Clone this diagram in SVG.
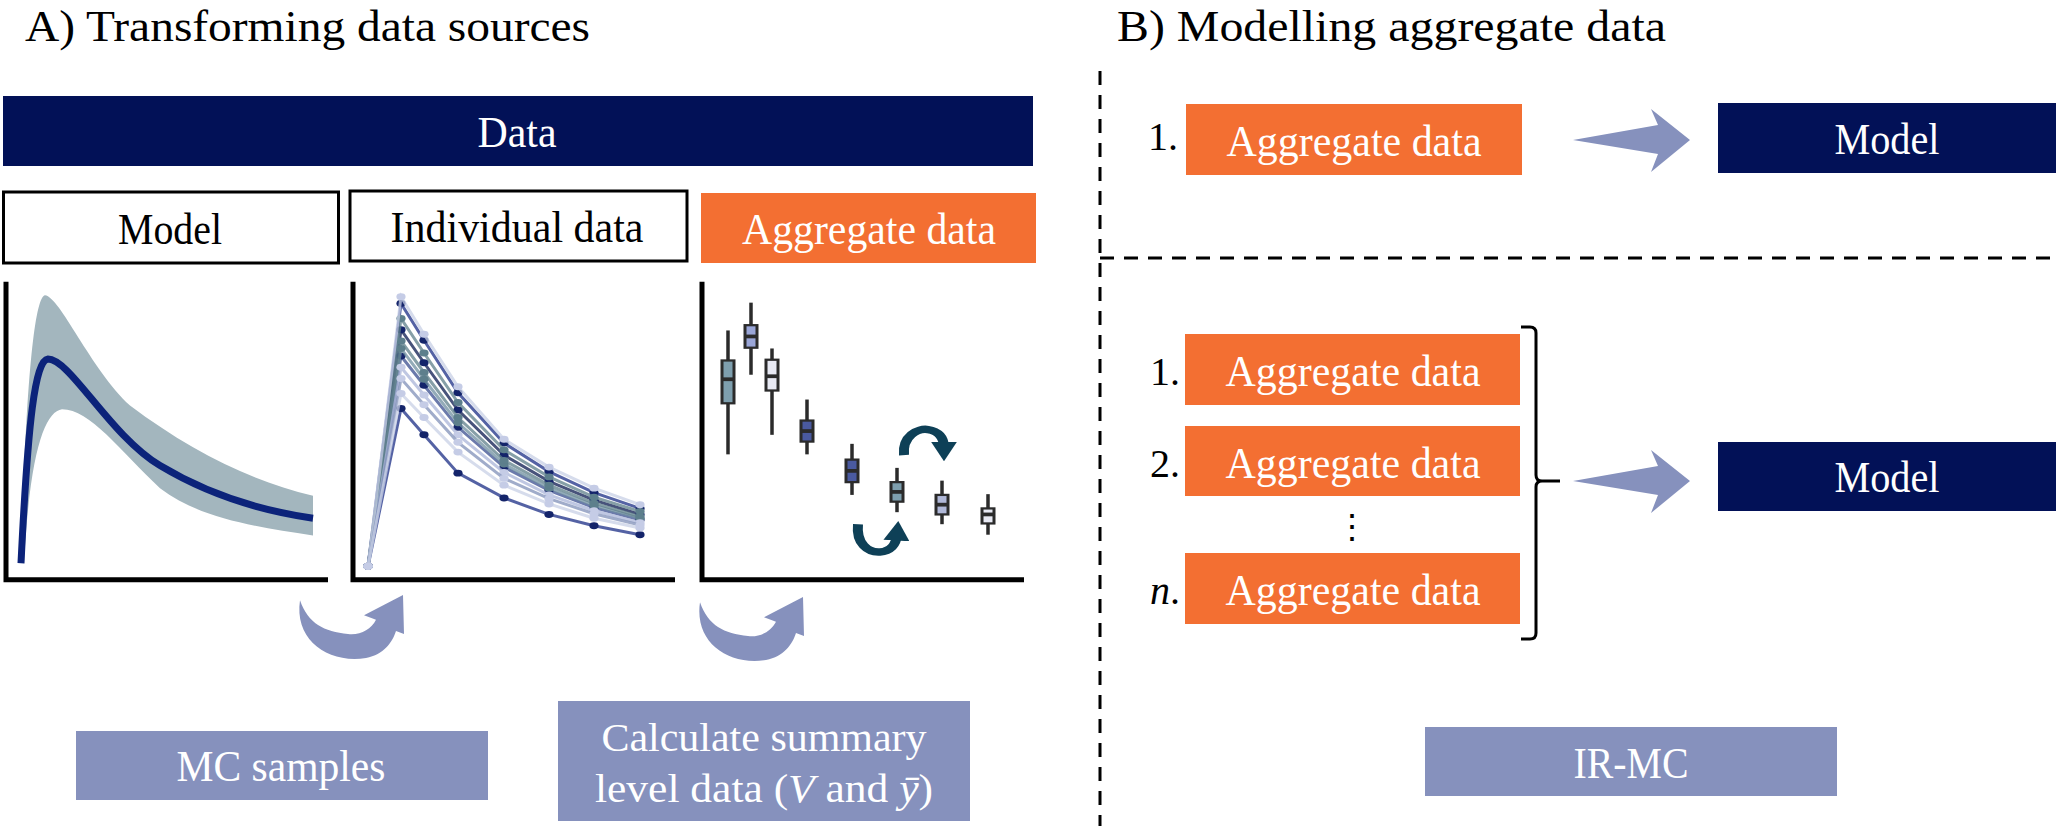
<svg xmlns="http://www.w3.org/2000/svg" width="2056" height="826" viewBox="0 0 2056 826">
<style>
text{font-family:"Liberation Serif","Times New Roman",serif}
.t{font-size:44px;fill:#000}
.w{fill:#fff;font-size:44px;text-anchor:middle}
.w2{fill:#fff;font-size:40px;text-anchor:middle}
.k{fill:#000;font-size:44px;text-anchor:middle}
.lab{font-size:40px;fill:#000;text-anchor:end}
.navy{fill:#021157}
.org{fill:#f36f32}
.lav{fill:#8691bd}
.ax{fill:none;stroke:#000;stroke-width:5;vector-effect:non-scaling-stroke}
.dash{fill:none;stroke:#000;stroke-width:3;stroke-dasharray:14 10}
.bx{stroke:#2b2b2b;stroke-width:3;vector-effect:non-scaling-stroke}
.wh{stroke:#2b2b2b;stroke-width:3.5;vector-effect:non-scaling-stroke}
.il{fill:none;stroke-width:3;stroke-opacity:0.75;vector-effect:non-scaling-stroke}
.sm{fill:none;stroke:#0e4057;stroke-width:10}
</style>
<defs>
<marker id="dn" viewBox="0 0 10 10" refX="5" refY="5" markerWidth="3.4" markerHeight="3.4" orient="0" markerUnits="strokeWidth"><circle cx="5" cy="5" r="4" fill="#14246a"/></marker>
<marker id="dt" viewBox="0 0 10 10" refX="5" refY="5" markerWidth="3.4" markerHeight="3.4" orient="0" markerUnits="strokeWidth"><circle cx="5" cy="5" r="4" fill="#5d7f8c"/></marker>
<marker id="dl" viewBox="0 0 10 10" refX="5" refY="5" markerWidth="3.4" markerHeight="3.4" orient="0" markerUnits="strokeWidth"><circle cx="5" cy="5" r="4" fill="#c5cce6"/></marker>
<marker id="ah" viewBox="0 0 10 10" refX="3" refY="5" markerWidth="2.6" markerHeight="2.6" orient="auto" markerUnits="strokeWidth"><path d="M0,0 L10,5 L0,10 Z" fill="#0e4057"/></marker>
<path id="bigArrow" d="M2,7 C-4,60 30,92 68,84 C86,79 94,64 98,48 L106,52 L105,0 L66,27 L78,33 C73,46 62,54 50,52 C26,49 10,38 2,7 Z"/>
<path id="rArrow" d="M0,31 L85,16 L78,0 L117,31 L78,63 L85,45 Z"/>
</defs>

<g id="titles">
<text class="t" x="25" y="41" textLength="565" lengthAdjust="spacingAndGlyphs">A) Transforming data sources</text>
<text class="t" x="1117" y="41" textLength="549" lengthAdjust="spacingAndGlyphs">B) Modelling aggregate data</text>
</g>

<g id="data-bar">
<rect class="navy" x="3" y="96" width="1030" height="70"/>
<text class="w" x="517" y="147" textLength="79" lengthAdjust="spacingAndGlyphs">Data</text>
</g>
<g id="model-a">
<rect x="3.5" y="192" width="335" height="71" fill="#fff" stroke="#000" stroke-width="3"/>
<text class="k" x="170" y="244" textLength="104" lengthAdjust="spacingAndGlyphs">Model</text>
</g>
<g id="individual-a">
<rect x="350" y="191" width="337" height="70" fill="#fff" stroke="#000" stroke-width="3"/>
<text class="k" x="517" y="242" textLength="253" lengthAdjust="spacingAndGlyphs">Individual data</text>
</g>
<g id="aggregate-a">
<rect class="org" x="701" y="193" width="335" height="70"/>
<text class="w" x="869" y="244" textLength="254" lengthAdjust="spacingAndGlyphs">Aggregate data</text>
</g>

<g id="plot-model" transform="matrix(1,0,0,0.751,0,0)">
<path d="M21,748 C26,500 35,395 45,393 C60,395 90,490 130,540 C190,600 250,640 313,660 L313,713 C250,700 200,690 160,650 C120,600 90,545 62,545 C45,548 30,600 24,750 Z" fill="#a3b6be"/>
<path d="M21,750 C28,560 35,480 48,478 C70,478 110,580 160,620 C210,660 260,680 313,690" fill="none" stroke="#0c237a" stroke-width="7" vector-effect="non-scaling-stroke"/>
<path class="ax" d="M6,375 V772 H328"/>
</g>

<g id="plot-individual" transform="matrix(1,0,0,0.751,0,0)">
<g marker-start="url(#dn)" marker-mid="url(#dn)" marker-end="url(#dn)">
<polyline class="il" stroke="#1b2d86" points="368,754 401,404 424,453 458,523 504,590 549,628 594,656 640,677"/>
<polyline class="il" stroke="#0b1a4f" points="368,754 401,439 424,483 458,546 504,606 549,641 594,666 640,685"/>
<polyline class="il" stroke="#3a4d8f" points="368,754 401,474 424,513 458,569 504,622 549,653 594,676 640,692"/>
<polyline class="il" stroke="#1b2d86" points="368,754 401,544 424,579 458,630 504,663 549,685 594,700 640,712"/>
</g>
<g marker-start="url(#dt)" marker-mid="url(#dt)" marker-end="url(#dt)">
<polyline class="il" stroke="#5e7f8a" points="368,754 401,424 424,470 458,536 504,599 549,635 594,662 640,681"/>
<polyline class="il" stroke="#6f8fa0" points="368,754 401,464 424,505 458,563 504,618 549,650 594,673 640,690"/>
<polyline class="il" stroke="#5e7f8a" points="368,754 401,454 424,496 458,556 504,613 549,646 594,670 640,688"/>
</g>
<g marker-start="url(#dl)" marker-mid="url(#dl)" marker-end="url(#dl)">
<polyline class="il" stroke="#aab4d8" points="368,754 401,489 424,526 458,579 504,629 549,659 594,680 640,696"/>
<polyline class="il" stroke="#c8d0e6" points="368,754 401,395 424,445 458,515 504,585 549,622 594,650 640,672"/>
<polyline class="il" stroke="#8090b8" points="368,754 401,504 424,539 458,589 504,637 549,664 594,684 640,699"/>
<polyline class="il" stroke="#c8d0e6" points="368,754 401,524 424,556 458,602 504,646 549,671 594,690 640,703"/>
</g>
<path class="ax" d="M353,375 V772 H675"/>
</g>

<g id="plot-aggregate" transform="matrix(1,0,0,0.751,0,0)">
<path class="ax" d="M702,375 V772 H1024"/>
<g class="wh">
<line x1="728" y1="440" x2="728" y2="605"/>
<line x1="751" y1="403" x2="751" y2="499"/>
<line x1="772" y1="464" x2="772" y2="579"/>
<line x1="807" y1="532" x2="807" y2="605"/>
<line x1="852" y1="591" x2="852" y2="659"/>
<line x1="897" y1="623" x2="897" y2="682"/>
<line x1="942" y1="640" x2="942" y2="698"/>
<line x1="988" y1="658" x2="988" y2="712"/>
</g>
<g class="bx">
<rect x="722" y="480" width="12" height="57" fill="#7e9fae"/>
<rect x="745" y="433" width="12" height="30" fill="#9aa6d8"/>
<rect x="766" y="479" width="12" height="41" fill="#e8eaf4"/>
<rect x="801" y="560" width="12" height="28" fill="#4a5aa0"/>
<rect x="846" y="612" width="12" height="30" fill="#4a5aa0"/>
<rect x="891" y="642" width="12" height="26" fill="#7e9fae"/>
<rect x="936" y="659" width="12" height="26" fill="#b0b8d8"/>
<rect x="982" y="677" width="12" height="20" fill="#e8eaf4"/>
</g>
<g stroke="#2b2b2b" stroke-width="5">
<line x1="722" y1="505" x2="734" y2="505"/>
<line x1="745" y1="448" x2="757" y2="448"/>
<line x1="766" y1="501" x2="778" y2="501"/>
<line x1="801" y1="574" x2="813" y2="574"/>
<line x1="846" y1="627" x2="858" y2="627"/>
<line x1="891" y1="655" x2="903" y2="655"/>
<line x1="936" y1="672" x2="948" y2="672"/>
<line x1="982" y1="685" x2="994" y2="685"/>
</g>
<path class="sm" d="M904,606 C902,580 918,570 928,572 C938,574 944,582 944,596" marker-end="url(#ah)"/>
<path class="sm" d="M858,698 C856,724 868,736 880,735 C890,734 896,726 897,712" marker-end="url(#ah)"/>
</g>

<g id="connectors">
<use href="#bigArrow" class="lav" transform="translate(298,595) scale(1,0.75)"/>
<use href="#bigArrow" class="lav" transform="translate(698,597) scale(1,0.75)"/>
<use href="#rArrow" class="lav" x="1573" y="109"/>
<use href="#rArrow" class="lav" x="1573" y="450"/>
<path d="M1521,327 H1530 Q1536,327 1536,333 V475 Q1536,481 1542,481 H1560 M1542,481 Q1536,481 1536,487 V633 Q1536,639 1530,639 H1521" fill="none" stroke="#000" stroke-width="3"/>
</g>

<g id="mc-samples">
<rect class="lav" x="76" y="731" width="412" height="69"/>
<text class="w" x="281" y="781" textLength="209" lengthAdjust="spacingAndGlyphs">MC samples</text>
</g>
<g id="calc-summary">
<rect class="lav" x="558" y="701" width="412" height="120"/>
<text class="w2" x="764" y="751" textLength="325" lengthAdjust="spacingAndGlyphs">Calculate summary</text>
<text class="w2" x="764" y="802" textLength="338" lengthAdjust="spacingAndGlyphs">level data (<tspan font-style="italic">V</tspan> and <tspan font-style="italic">ȳ</tspan>)</text>
</g>

<g id="dividers">
<line class="dash" x1="1100" y1="71" x2="1100" y2="826"/>
<line class="dash" x1="1100" y1="258" x2="2056" y2="258"/>
</g>

<g id="agg-b1">
<text class="lab" x="1178" y="150">1.</text>
<rect class="org" x="1186" y="104" width="336" height="71"/>
<text class="w" x="1354" y="156" textLength="255" lengthAdjust="spacingAndGlyphs">Aggregate data</text>
</g>
<g id="model-b1">
<rect class="navy" x="1718" y="103" width="338" height="70"/>
<text class="w" x="1887" y="154" textLength="105" lengthAdjust="spacingAndGlyphs">Model</text>
</g>
<g id="agg-b2-1">
<text class="lab" x="1180" y="385">1.</text>
<rect class="org" x="1185" y="334" width="335" height="71"/>
<text class="w" x="1353" y="386" textLength="255" lengthAdjust="spacingAndGlyphs">Aggregate data</text>
</g>
<g id="agg-b2-2">
<text class="lab" x="1180" y="477">2.</text>
<rect class="org" x="1185" y="426" width="335" height="70"/>
<text class="w" x="1353" y="478" textLength="255" lengthAdjust="spacingAndGlyphs">Aggregate data</text>
</g>
<g id="ellipsis">
<text x="1352" y="538" font-size="34" text-anchor="middle" fill="#000">⋮</text>
</g>
<g id="agg-b2-n">
<text class="lab" x="1180" y="604"><tspan font-style="italic">n</tspan>.</text>
<rect class="org" x="1185" y="553" width="335" height="71"/>
<text class="w" x="1353" y="605" textLength="255" lengthAdjust="spacingAndGlyphs">Aggregate data</text>
</g>
<g id="model-b2">
<rect class="navy" x="1718" y="442" width="338" height="69"/>
<text class="w" x="1887" y="492" textLength="105" lengthAdjust="spacingAndGlyphs">Model</text>
</g>
<g id="ir-mc">
<rect class="lav" x="1425" y="727" width="412" height="69"/>
<text class="w" x="1631" y="778" textLength="115" lengthAdjust="spacingAndGlyphs">IR-MC</text>
</g>
</svg>
